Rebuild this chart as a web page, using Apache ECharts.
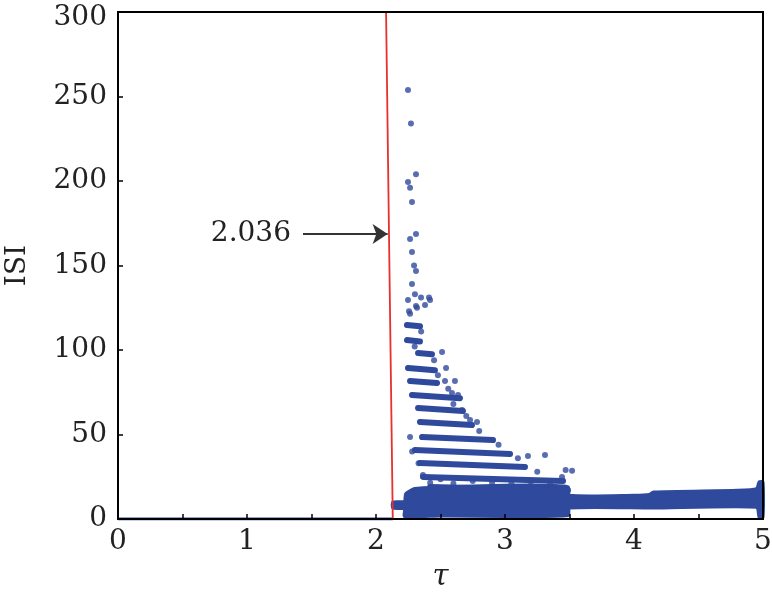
<!DOCTYPE html>
<html>
<head>
<meta charset="utf-8">
<script src="https://cdn.jsdelivr.net/npm/echarts@6/dist/echarts.min.js"></script>
<style>
  html, body { margin: 0; padding: 0; background: #fff; }
  #chart { width: 772px; height: 599px; }
</style>
</head>
<body>
<div id="chart"></div>
<script>
// axis ticks
var xTicks = [0, 1, 2, 3, 4, 5]
var yTicks = [0, 50, 100, 150, 200, 250, 300]

// ISI = 0 below the threshold
var zeroLine = [[0, 0], [2.13, 0]]
// red threshold line
var threshold = [[2.078, 300], [2.13, 0]]
// arrow pointing at the threshold
var arrowFrom = [1.434, 168.6]
var arrowTo = [2.09, 168.6]
var arrowText = '2.036'

// isolated points [tau, ISI]
var dots = [
  [2.248, 253.8], [2.271, 234], [2.31, 204], [2.248, 199.4], [2.264, 196],
  [2.279, 187.6], [2.31, 168.6], [2.264, 165.7], [2.279, 158], [2.295, 150],
  [2.31, 146.7], [2.279, 139], [2.302, 133], [2.349, 131], [2.411, 131],
  [2.38, 126.6], [2.256, 123], [2.318, 125], [2.264, 121.4], [2.248, 129.6],
  [2.31, 126], [2.419, 129.6], [2.512, 98.8], [2.543, 89.3], [2.535, 81.7],
  [2.612, 81.7], [2.589, 74.6], [2.636, 73.4], [2.667, 64.5], [2.783, 57.4],
  [2.729, 58.6], [2.264, 48.5], [3.31, 37.9], [3.178, 37.3], [3.442, 24.9],
  [2.364, 26], [3.47, 29], [3.52, 28.5], [2.28, 40], [2.33, 33],
  [2.42, 21.5], [2.6, 21], [2.9, 21.5], [3.05, 21], [3.2, 22],
  [2.35, 111], [2.3, 102], [2.45, 94], [2.48, 85], [2.56, 77],
  [2.6, 68], [2.7, 61], [2.8, 52], [2.95, 44], [3.1, 36], [3.25, 28],
  [2.5, 23.5], [2.75, 22.5], [3.35, 21]
]

// horizontal streaks [tauStart, tauEnd, ISIstart, ISIend]
var streaks = [
  [2.24, 2.341, 114.8, 114],
  [2.24, 2.341, 105.9, 105],
  [2.326, 2.434, 98.2, 97.5],
  [2.248, 2.457, 89.3, 88],
  [2.264, 2.473, 81.7, 80.5],
  [2.279, 2.651, 73.4, 71.5],
  [2.326, 2.674, 65.7, 63.9],
  [2.341, 2.744, 57.4, 55.6],
  [2.357, 2.907, 48.5, 46.7],
  [2.302, 3.039, 40.8, 38.5],
  [2.341, 3.155, 33.1, 30.8],
  [2.364, 3.45, 24.9, 22.5],
  [2.419, 3.488, 18.9, 17]
]

// dense band outline, top edge left to right then bottom edge right to left
var bandTop = [
  [2.13, 10], [2.22, 10.5], [2.23, 15], [2.3, 18], [2.5, 19], [3.0, 20],
  [3.3, 20], [3.49, 19], [3.5, 14], [4.0, 14], [4.12, 14.5], [4.15, 16],
  [4.8, 17], [4.95, 18], [4.97, 22], [5.0, 22]
]
var bandBottom = [
  [5.0, 1], [4.97, 1], [4.95, 7], [4.15, 6.5], [3.5, 6.5], [3.49, 2],
  [3.0, 1.5], [2.5, 1.8], [2.22, 1.5], [2.22, 6], [2.13, 6.5]
]

var blue = '#2f4a9c'
var serif = 'DejaVu Serif'
var txt = '#222'

var chart = echarts.init(document.getElementById('chart'))

chart.setOption({
  backgroundColor: '#fff',
  animation: false,
  grid: {
    left: 118, right: 9, top: 12, bottom: 80,
    containLabel: false, outerBoundsMode: 'none',
    show: true, borderColor: '#000', borderWidth: 2, z: 10
  },
  xAxis: {
    type: 'value', min: 0, max: 5, interval: 0.5, z: 10,
    name: 'τ', nameLocation: 'middle', nameGap: 44,
    nameTextStyle: { fontFamily: serif, fontStyle: 'italic', fontSize: 29, color: txt },
    axisLine: { lineStyle: { color: '#000', width: 2 } },
    axisTick: { inside: true, length: 5, lineStyle: { color: '#000', width: 1.5 } },
    axisLabel: {
      margin: 9, fontFamily: serif, fontSize: 28, color: txt,
      formatter: function(v) { return xTicks.indexOf(v) >= 0 ? String(v) : '' }
    },
    splitLine: { show: false }
  },
  yAxis: {
    type: 'value', min: 0, max: 300, interval: 50, z: 10,
    name: 'ISI', nameLocation: 'middle', nameGap: 86,
    nameTextStyle: { fontFamily: serif, fontSize: 28, color: txt },
    axisLine: { lineStyle: { color: '#000', width: 2 } },
    axisTick: { inside: true, length: 5, lineStyle: { color: '#000', width: 1.5 } },
    axisLabel: {
      margin: 11, fontFamily: serif, fontSize: 28, color: txt,
      formatter: function(v) {
        if (yTicks.indexOf(v) < 0) return ''
        // top label sits a little below its tick, as in the figure
        return v === 300 ? '{t|' + v + '}' : String(v)
      },
      rich: {
        t: { fontFamily: serif, fontSize: 28, color: txt, padding: [12, 0, 0, 0] }
      }
    },
    splitLine: { show: false }
  },
  series: [
    {
      type: 'line', data: zeroLine, symbol: 'none', z: 1,
      lineStyle: { color: blue, width: 3 }
    },
    {
      type: 'custom', z: 2,
      data: [0],
      renderItem: function(params, api) {
        var pts = bandTop.concat(bandBottom).map(function(p) { return api.coord(p) })
        return {
          type: 'polygon',
          shape: { points: pts, smooth: 0.2 },
          style: { fill: blue, stroke: blue, lineWidth: 3 }
        }
      }
    },
    {
      type: 'custom', z: 2,
      data: streaks,
      encode: { x: [0, 1], y: [2, 3] },
      renderItem: function(params, api) {
        var a = api.coord([api.value(0), api.value(2)])
        var b = api.coord([api.value(1), api.value(3)])
        return {
          type: 'line',
          shape: { x1: a[0], y1: a[1], x2: b[0], y2: b[1] },
          style: { stroke: blue, lineWidth: 6, lineCap: 'round' }
        }
      }
    },
    {
      type: 'scatter', data: dots, symbolSize: 6, z: 3,
      itemStyle: { color: blue }
    },
    {
      type: 'line', data: threshold, symbol: 'none', z: 4,
      lineStyle: { color: '#e8302e', width: 1.8 },
      markLine: {
        silent: true,
        symbol: ['none', 'arrow'],
        symbolSize: 15,
        lineStyle: { color: '#333', width: 2, type: 'solid' },
        label: {
          show: true, position: 'start', distance: 12,
          formatter: arrowText,
          fontFamily: serif, fontSize: 28, color: txt
        },
        data: [[{ coord: arrowFrom }, { coord: arrowTo }]]
      }
    }
  ]
})
</script>
</body>
</html>
